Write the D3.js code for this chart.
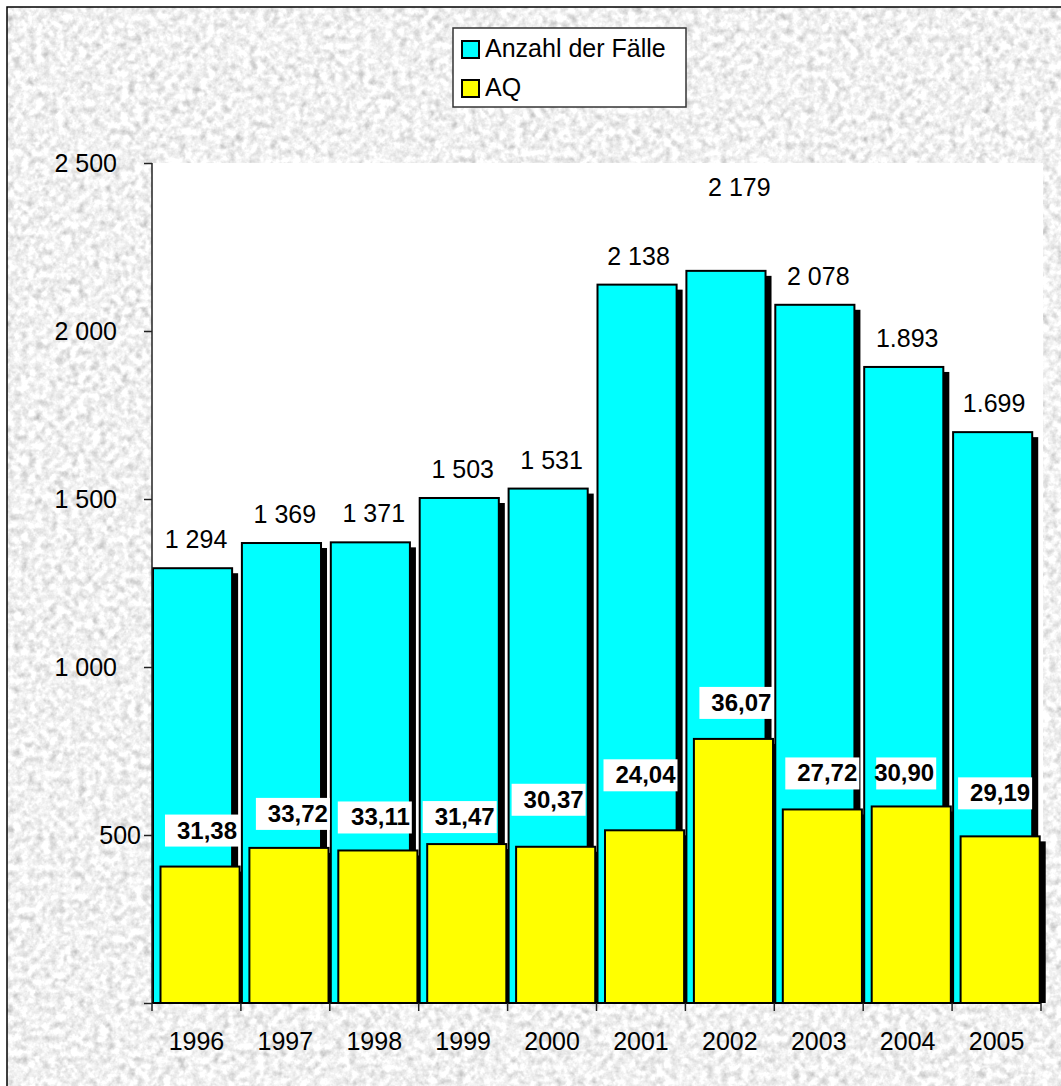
<!DOCTYPE html>
<html><head><meta charset="utf-8">
<script src="https://cdn.jsdelivr.net/npm/d3@7"></script>
<style>
body{margin:0;background:#fff}
svg{display:block}
text{font-family:"Liberation Sans",Arial,Helvetica,sans-serif;fill:#000}
</style>
</head><body>
<svg id="chart" width="1061" height="1086"></svg>
<script>
// ---------- data ----------
const years = ["1996","1997","1998","1999","2000","2001","2002","2003","2004","2005"];
const anzahl = [1294,1369,1371,1503,1531,2138,2179,2078,1893,1699];
const anzahlLabels = ["1 294","1 369","1 371","1 503","1 531","2 138","2 179","2 078","1.893","1.699"];
const aq = [31.38,33.72,33.11,31.47,30.37,24.04,36.07,27.72,30.90,29.19];
const aqLabels = ["31,38","33,72","33,11","31,47","30,37","24,04","36,07","27,72","30,90","29,19"];
const yTicks = [0,500,1000,1500,2000,2500];
const yTickLabels = ["","500","1 000","1 500","2 000","2 500"];
const seriesNames = ["Anzahl der Fälle","AQ"];
const seriesColors = ["#00ffff","#ffff00"];
// manual label placement nudges (px) as in the original
const anzahlLabelNudge = [[0,0],[0,0],[0,0],[0,0],[0,0],[-2,0],[10,-55],[0,0],[0,0],[-2,0]];
const aqLabelNudge = [[2,0],[4,2],[-3,3],[-7,9],[-7,-11],[-4,-19],[3,0],[0,0],[-12,3],[-5,-7]];
const aqBoxWidths = [74,74,74,74,74,74,74,74,60,74];

// ---------- layout ----------
const W = 1061, H = 1086;
const plot = {left:152, right:1041, top:163, bottom:1003};
const svg = d3.select("#chart");
const defs = svg.append("defs");

const f = defs.append("filter").attr("id","granite")
  .attr("x",0).attr("y",0).attr("width","100%").attr("height","100%")
  .attr("color-interpolation-filters","sRGB");
f.append("feTurbulence").attr("type","fractalNoise").attr("baseFrequency","0.14")
  .attr("numOctaves",3).attr("seed",7).attr("result","n");
f.append("feColorMatrix").attr("type","matrix")
  .attr("values","0.33 0.33 0.33 0 0 0.33 0.33 0.33 0 0 0.33 0.33 0.33 0 0 0 0 0 0 1");
const ct = f.append("feComponentTransfer");
["feFuncR","feFuncG","feFuncB"].forEach(n=>ct.append(n).attr("type","linear").attr("slope",0.7).attr("intercept",0.6));
ct.append("feFuncA").attr("type","linear").attr("slope",0).attr("intercept",1);

// background texture with frame
svg.append("rect").attr("x",7).attr("y",7).attr("width",W).attr("height",H)
  .attr("filter","url(#granite)");
svg.append("rect").attr("x",7).attr("y",7).attr("width",W+20).attr("height",H+20)
  .attr("fill","none").attr("stroke","#000").attr("stroke-width",1.5);

// scales
const x = d3.scaleBand().domain(years).range([plot.left, plot.right]).padding(0);
const y = d3.scaleLinear().domain([0,2500]).range([plot.bottom, plot.top]);
const bw = x.bandwidth();

// plot area
svg.append("rect").attr("x",plot.left).attr("y",plot.top)
  .attr("width",plot.right+2-plot.left).attr("height",plot.bottom-plot.top).attr("fill","#fff");

const barW = bw*0.89;
const shadow = {dx:6, dy:5};
const data = years.map((yr,i)=>({yr, i, a:anzahl[i], q:anzahl[i]*aq[i]/100}));

const gBars = svg.append("g");
data.forEach(d=>{
  const g = gBars.append("g");
  const x0 = x(d.yr);
  const specs = [
    {x:x0+1, v:d.a, c:seriesColors[0]},
    {x:x0+8.5, v:d.q, c:seriesColors[1]}
  ];
  specs.forEach(s=>{
    g.append("rect").attr("x",s.x+shadow.dx).attr("y",y(s.v)+shadow.dy)
      .attr("width",barW).attr("height",y(0)-y(s.v)-shadow.dy).attr("fill","#000");
    g.append("rect").attr("x",s.x).attr("y",y(s.v))
      .attr("width",barW).attr("height",y(0)-y(s.v))
      .attr("fill",s.c).attr("stroke","#000").attr("stroke-width",2);
  });
});

// axes
const yAxis = svg.append("g").attr("transform",`translate(${plot.left},0)`)
  .call(d3.axisLeft(y).tickValues(yTicks).tickSize(8).tickFormat(""));
yAxis.select(".domain").attr("stroke","#222").attr("stroke-width",1.5).attr("d",`M0,${plot.top}V${plot.bottom}`);
yAxis.selectAll(".tick line").attr("stroke","#222").attr("stroke-width",1.5);
svg.append("g").selectAll("text").data(yTicks).join("text")
  .attr("x",v=>v>=1000?117:141).attr("y",v=>y(v)+9)
  .attr("text-anchor","end").attr("font-size",25)
  .text((v,i)=>yTickLabels[i]);

svg.append("line").attr("x1",plot.left).attr("x2",plot.right).attr("y1",plot.bottom).attr("y2",plot.bottom)
  .attr("stroke","#000").attr("stroke-width",2);
const edges = years.map(yr=>x(yr)).concat([plot.right]);
svg.append("g").selectAll("line").data(edges).join("line")
  .attr("x1",d=>d).attr("x2",d=>d).attr("y1",plot.bottom).attr("y2",plot.bottom+8)
  .attr("stroke","#222").attr("stroke-width",1.5);
svg.append("g").selectAll("text").data(years).join("text")
  .attr("x",d=>x(d)+bw/2).attr("y",1050).attr("text-anchor","middle").attr("font-size",25)
  .text(d=>d);

// value labels for Anzahl
svg.append("g").selectAll("text").data(data).join("text")
  .attr("x",d=>x(d.yr)+44+anzahlLabelNudge[d.i][0])
  .attr("y",d=>y(d.a)-20+anzahlLabelNudge[d.i][1])
  .attr("text-anchor","middle").attr("font-size",25)
  .text(d=>anzahlLabels[d.i]);

// value labels for AQ (white boxes)
const boxH = 32;
const gq = svg.append("g").selectAll("g").data(data).join("g")
  .attr("transform",d=>{
    const r = x(d.yr)+85+aqLabelNudge[d.i][0];
    const cy = y(d.q)-36+aqLabelNudge[d.i][1];
    return `translate(${r},${cy})`;
  });
gq.append("rect").attr("x",d=>-aqBoxWidths[d.i]).attr("y",-boxH/2)
  .attr("width",d=>aqBoxWidths[d.i]).attr("height",boxH).attr("fill","#fff");
gq.append("text").attr("x",-2).attr("y",8).attr("text-anchor","end")
  .attr("font-size",24).attr("font-weight","bold").text(d=>aqLabels[d.i]);

// legend
const lg = svg.append("g").attr("transform","translate(453,28)");
lg.append("rect").attr("width",233).attr("height",79).attr("fill","#fff").attr("stroke","#333").attr("stroke-width",1.5);
seriesNames.forEach((n,i)=>{
  const row = lg.append("g").attr("transform",`translate(0,${13+i*39})`);
  row.append("rect").attr("x",9).attr("y",0).attr("width",17).attr("height",17)
    .attr("fill",seriesColors[i]).attr("stroke","#000").attr("stroke-width",2);
  row.append("text").attr("x",32).attr("y",16).attr("font-size",25).text(n);
});
</script>
</body></html>
